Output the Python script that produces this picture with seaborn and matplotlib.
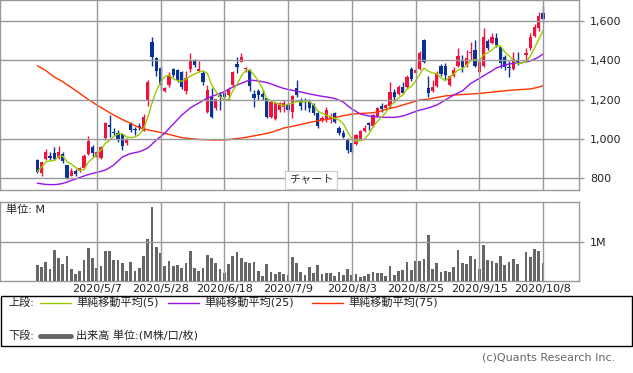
import numpy as np
import pandas as pd
import matplotlib
matplotlib.use("Agg")
import matplotlib.pyplot as plt
from matplotlib.lines import Line2D
from matplotlib.patches import Rectangle
import seaborn as sns

nan = np.nan

# 日足 (2020/4/13 - 2020/10/8), 10/1 は売買停止
opens = [893, 826, 897, 915, 927, 902, 924, 868, 813, 837,
         839, 851, 924, 961, 907, 902, 1003, 1071, 1036, 1032,
         1024, 981, 1075, 1051, 1066, 1042, 1195, 1495, 1410, 1362,
         1246, 1275, 1354, 1351, 1342, 1246, 1354, 1397, 1346, 1337,
         1139, 1215, 1156, 1224, 1232, 1224, 1275, 1381, 1393, 1354,
         1351, 1227, 1244, 1229, 1207, 1113, 1100, 1147, 1164, 1173,
         1139, 1258, 1198, 1198, 1190, 1173, 1134, 1097, 1100, 1108,
         1134, 1057, 1029, 998, 978, 975, 998, 1042, 1080, 1066,
         1117, 1168, 1156, 1168, 1237, 1229, 1266, 1263, 1354, 1337,
         1354, 1503, 1258, 1246, 1269, 1371, 1371, 1275, 1320, 1371,
         1402, 1376, 1436, 1453, 1342, 1371, 1500, 1490, 1512, 1466,
         1415, 1368, 1354, 1402, nan, 1427, 1461, 1524, 1563, 1639]
highs = [897, 883, 949, 935, 961, 966, 935, 870, 851, 846,
         856, 924, 1015, 970, 940, 965, 1085, 1122, 1054, 1046,
         1030, 1003, 1086, 1063, 1080, 1126, 1300, 1520, 1415, 1370,
         1262, 1342, 1360, 1356, 1347, 1347, 1439, 1407, 1397, 1347,
         1275, 1258, 1205, 1240, 1249, 1263, 1347, 1418, 1436, 1368,
         1356, 1249, 1253, 1249, 1210, 1195, 1185, 1190, 1198, 1185,
         1224, 1300, 1207, 1207, 1202, 1181, 1139, 1117, 1161, 1130,
         1139, 1066, 1046, 1003, 985, 1025, 1046, 1071, 1088, 1128,
         1164, 1181, 1180, 1291, 1253, 1275, 1291, 1325, 1368, 1393,
         1445, 1508, 1320, 1300, 1347, 1381, 1388, 1325, 1368, 1461,
         1427, 1453, 1495, 1503, 1398, 1563, 1507, 1541, 1537, 1470,
         1427, 1398, 1444, 1444, nan, 1461, 1537, 1585, 1647, 1676]
lows = [826, 813, 893, 893, 893, 900, 876, 798, 810, 813,
        834, 846, 920, 910, 900, 898, 995, 1012, 1020, 986,
        944, 970, 1036, 1020, 1046, 1040, 1168, 1373, 1320, 1249,
        1240, 1263, 1317, 1291, 1255, 1229, 1342, 1366, 1342, 1275,
        1130, 1105, 1147, 1147, 1207, 1198, 1270, 1334, 1390, 1342,
        1246, 1164, 1198, 1198, 1108, 1108, 1095, 1139, 1139, 1139,
        1105, 1212, 1147, 1147, 1139, 1122, 1054, 1088, 1088, 1083,
        1080, 1020, 1003, 930, 927, 970, 993, 1037, 1046, 1060,
        1112, 1139, 1150, 1156, 1190, 1224, 1229, 1258, 1296, 1334,
        1350, 1388, 1215, 1240, 1266, 1320, 1300, 1270, 1313, 1368,
        1342, 1368, 1402, 1368, 1334, 1366, 1453, 1485, 1470, 1360,
        1351, 1317, 1350, 1376, nan, 1402, 1453, 1517, 1551, 1591]
closes = [834, 881, 935, 905, 897, 935, 890, 800, 837, 820,
          851, 915, 990, 927, 935, 961, 1080, 1062, 1029, 995,
          966, 1000, 1046, 1046, 1054, 1113, 1291, 1415, 1347, 1275,
          1258, 1325, 1325, 1300, 1263, 1309, 1402, 1376, 1354, 1291,
          1249, 1113, 1202, 1215, 1215, 1253, 1342, 1368, 1418, 1360,
          1269, 1210, 1224, 1215, 1113, 1190, 1181, 1181, 1181, 1147,
          1219, 1224, 1168, 1193, 1156, 1131, 1066, 1105, 1147, 1113,
          1088, 1029, 1012, 944, 935, 1020, 1041, 1057, 1071, 1122,
          1156, 1151, 1173, 1240, 1212, 1266, 1235, 1317, 1304, 1351,
          1439, 1393, 1235, 1263, 1330, 1330, 1325, 1320, 1351, 1422,
          1368, 1410, 1444, 1373, 1393, 1520, 1461, 1517, 1478, 1388,
          1368, 1363, 1405, 1385, nan, 1439, 1517, 1568, 1625, 1609]

# 単純移動平均(25), (75)
ma25 = [775, 772, 769, 768, 768, 770, 774, 781, 789, 796,
        804, 812, 819, 825, 830, 836, 842, 854, 868, 888,
        908, 918, 926, 931, 935, 944, 954, 974, 995, 1012,
        1030, 1053, 1076, 1099, 1122, 1140, 1158, 1171, 1183, 1196,
        1208, 1216, 1224, 1232, 1240, 1252, 1264, 1274, 1283, 1292,
        1300, 1298, 1295, 1291, 1287, 1280, 1272, 1264, 1257, 1252,
        1248, 1243, 1239, 1234, 1229, 1225, 1221, 1217, 1214, 1210,
        1206, 1197, 1188, 1170, 1153, 1140, 1127, 1122, 1117, 1115,
        1113, 1111, 1110, 1110, 1110, 1113, 1117, 1124, 1132, 1140,
        1147, 1152, 1158, 1165, 1173, 1185, 1198, 1211, 1224, 1234,
        1244, 1263, 1283, 1295, 1308, 1321, 1334, 1347, 1361, 1369,
        1376, 1381, 1385, 1387, 1388, 1392, 1397, 1406, 1417, 1432]
ma75 = [1373, 1360, 1348, 1331, 1315, 1303, 1291, 1276, 1262, 1247,
        1232, 1216, 1201, 1187, 1173, 1160, 1147, 1134, 1122, 1110,
        1099, 1089, 1079, 1068, 1058, 1052, 1046, 1042, 1038, 1033,
        1029, 1023, 1018, 1012, 1007, 1004, 1002, 1000, 998, 997,
        996, 995, 995, 995, 995, 997, 1000, 1002, 1005, 1008,
        1012, 1016, 1020, 1024, 1028, 1034, 1041, 1048, 1056, 1060,
        1064, 1069, 1074, 1079, 1084, 1088, 1093, 1096, 1099, 1104,
        1109, 1114, 1119, 1122, 1126, 1128, 1130, 1131, 1132, 1134,
        1137, 1143, 1150, 1155, 1160, 1166, 1173, 1179, 1186, 1192,
        1198, 1200, 1203, 1207, 1211, 1215, 1219, 1221, 1224, 1225,
        1226, 1227, 1229, 1230, 1232, 1234, 1236, 1238, 1241, 1243,
        1245, 1247, 1249, 1250, 1252, 1253, 1254, 1259, 1264, 1271]

# 出来高 (M)
volume = [0.41, 0.36, 0.49, 0.30, 0.80, 0.59, 0.43, 0.64, 0.30, 0.17,
          0.25, 0.54, 0.85, 0.59, 0.33, 0.38, 0.77, 0.77, 0.54, 0.54,
          0.46, 0.25, 0.49, 0.25, 0.33, 0.64, 1.09, 1.92, 0.88, 0.72,
          0.38, 0.51, 0.38, 0.41, 0.33, 0.46, 0.77, 0.33, 0.25, 0.33,
          0.67, 0.59, 0.46, 0.30, 0.20, 0.43, 0.64, 0.75, 0.59, 0.49,
          0.46, 0.49, 0.25, 0.12, 0.43, 0.23, 0.17, 0.23, 0.17, 0.15,
          0.62, 0.46, 0.23, 0.15, 0.36, 0.20, 0.41, 0.17, 0.20, 0.20,
          0.12, 0.23, 0.15, 0.30, 0.15, 0.17, 0.10, 0.12, 0.17, 0.23,
          0.20, 0.20, 0.12, 0.38, 0.15, 0.25, 0.28, 0.49, 0.28, 0.51,
          0.51, 0.57, 1.19, 0.30, 0.46, 0.23, 0.25, 0.23, 0.36, 0.80,
          0.46, 0.43, 0.64, 0.57, 0.30, 0.93, 0.54, 0.51, 0.46, 0.64,
          0.41, 0.49, 0.57, 0.43, nan, 0.75, 0.62, 0.83, 0.77, 0.46]

date_pos = [14, 29, 44, 59, 74, 89, 104, 119]
date_labels = ["2020/5/7", "2020/5/28", "2020/6/18", "2020/7/9",
               "2020/8/3", "2020/8/25", "2020/9/15", "2020/10/8"]
price_ticks = [800, 1000, 1200, 1400, 1600]

sns.set_style("white")
plt.rcParams["font.family"] = ["DejaVu Sans", "Noto Sans CJK JP"]
plt.rcParams["axes.unicode_minus"] = False

RED = "#f0143c"
BLUE = "#0a3296"
GRID = "#999999"
TXT = "#222222"

W, H = 633, 373
def fx(x):
    return x / W
def fy(y):
    return 1 - y / H

df = pd.DataFrame({"pos": np.arange(len(closes)), "open": opens, "high": highs,
                   "low": lows, "close": closes, "ma25": ma25, "ma75": ma75,
                   "volume": volume})
trade = df.dropna(subset=["close"]).copy()
trade["ma5"] = trade["close"].rolling(5, min_periods=1).mean()

fig = plt.figure(figsize=(6.33, 3.73), dpi=100)
ax = fig.add_axes([0, fy(190), fx(579), 190 / H])
ax2 = fig.add_axes([0, fy(280.7), fx(579), 79 / H])

xlim = (-8.78, 127.46)

# ---- ローソク足
up = (trade["close"] >= trade["open"]).to_numpy()
cols = np.where(up, RED, BLUE)
pos = trade["pos"].to_numpy()
body_lo = np.minimum(trade["open"], trade["close"]).to_numpy()
body_h = np.maximum((trade["close"] - trade["open"]).abs().to_numpy(), 5)
ax.vlines(pos, trade["low"].to_numpy(), trade["high"].to_numpy(),
          colors=cols, lw=1, zorder=3)
ax.bar(pos, body_h, bottom=body_lo, width=0.75, color=cols,
       linewidth=0, zorder=4)

# ---- 移動平均
sns.lineplot(data=df, x="pos", y="ma75", ax=ax, color="#ff3300", lw=1, zorder=5)
sns.lineplot(data=df, x="pos", y="ma25", ax=ax, color="#9911ee", lw=1, zorder=5)
sns.lineplot(data=trade, x="pos", y="ma5", ax=ax, color="#99cc00", lw=1, zorder=6)

ax.set_xlim(*xlim)
ax.set_ylim(740.6, 1706.8)
ax.set_xticks(date_pos)
ax.set_xticklabels([])
ax.set_yticks(price_ticks)
ax.set_yticklabels([f"{v:,}" for v in price_ticks])
ax.yaxis.tick_right()
ax.tick_params(axis="x", length=0)
ax.tick_params(axis="y", length=3.6, width=1, color=GRID, pad=4.3,
               labelsize=8, labelcolor=TXT)
ax.set_xlabel("")
ax.set_ylabel("")
for s in ax.spines.values():
    s.set_color(GRID)
    s.set_linewidth(1)

# ---- 出来高
vol = trade.dropna(subset=["volume"])
sns.barplot(data=vol, x="pos", y="volume", native_scale=True, width=0.65,
            color="#666666", saturation=1, linewidth=0, ax=ax2, zorder=3)
ax2.set_xlim(*xlim)
ax2.set_ylim(0, 2.06)
ax2.set_xticks(date_pos)
ax2.set_xticklabels(date_labels)
ax2.set_yticks([1])
ax2.set_yticklabels(["1M"])
ax2.yaxis.tick_right()
ax2.tick_params(axis="x", length=0, pad=2.5, labelsize=8, labelcolor=TXT)
ax2.tick_params(axis="y", length=3.6, width=1, color=GRID, pad=4.3,
                labelsize=8, labelcolor=TXT)
ax2.set_xlabel("")
ax2.set_ylabel("")
for s in ax2.spines.values():
    s.set_color(GRID)
    s.set_linewidth(1)
ax2.text(0.01, 0.9, "単位: M", transform=ax2.transAxes, fontsize=8,
         color=TXT, va="center", ha="left")

# ---- グリッド: 軸の目盛り位置を図座標に変換して図レベルで描く
to_fig = fig.transFigure.inverted()
for a, ticks_y in ((ax, price_ticks), (ax2, [1])):
    x0, y0 = to_fig.transform(a.transAxes.transform((0, 0)))
    x1, y1 = to_fig.transform(a.transAxes.transform((1, 1)))
    for p in date_pos:
        gx = to_fig.transform(a.transData.transform((p, a.get_ylim()[0])))[0]
        fig.add_artist(Line2D([gx, gx], [y0, y1], transform=fig.transFigure,
                              color=GRID, lw=1, zorder=2))
    for v in ticks_y:
        gy = to_fig.transform(a.transData.transform((a.get_xlim()[0], v)))[1]
        fig.add_artist(Line2D([x0, x1], [gy, gy], transform=fig.transFigure,
                              color=GRID, lw=1, zorder=2))

# ---- チャート ラベル
fig.text(fx(311), fy(180), "チャート", fontsize=8, color="#333333",
         ha="center", va="center", zorder=10,
         bbox=dict(boxstyle="square,pad=0.35", fc="white", ec="#cccccc", lw=0.8))

# ---- 凡例
fig.add_artist(Rectangle((fx(0.5), fy(346)), fx(632) - fx(0.5), fy(295.7) - fy(346),
                         transform=fig.transFigure, fill=False, ec="black", lw=1))
fig.text(fx(8), fy(303), "上段:", fontsize=8, color=TXT, va="center")
fig.text(fx(8), fy(336), "下段:", fontsize=8, color=TXT, va="center")
legend_items = [(40, 71, 303, "#99cc00", 1, "単純移動平均(5)"),
                (168, 199, 303, "#9911ee", 1, "単純移動平均(25)"),
                (312, 343, 303, "#ff3300", 1, "単純移動平均(75)"),
                (40, 71, 336, "#666666", 3.5, "出来高 単位:(M株/口/枚)")]
for x0_, x1_, y, c, lw, label in legend_items:
    fig.add_artist(Line2D([fx(x0_), fx(x1_)], [fy(y), fy(y)], color=c, lw=lw,
                          transform=fig.transFigure))
    fig.text(fx(x1_ + 5), fy(y), label, fontsize=8, color=TXT, va="center")

fig.text(fx(615), fy(358), "(c)Quants Research Inc.", fontsize=8,
         color="#666666", ha="right", va="center")

fig.savefig("out.png", dpi=100)
